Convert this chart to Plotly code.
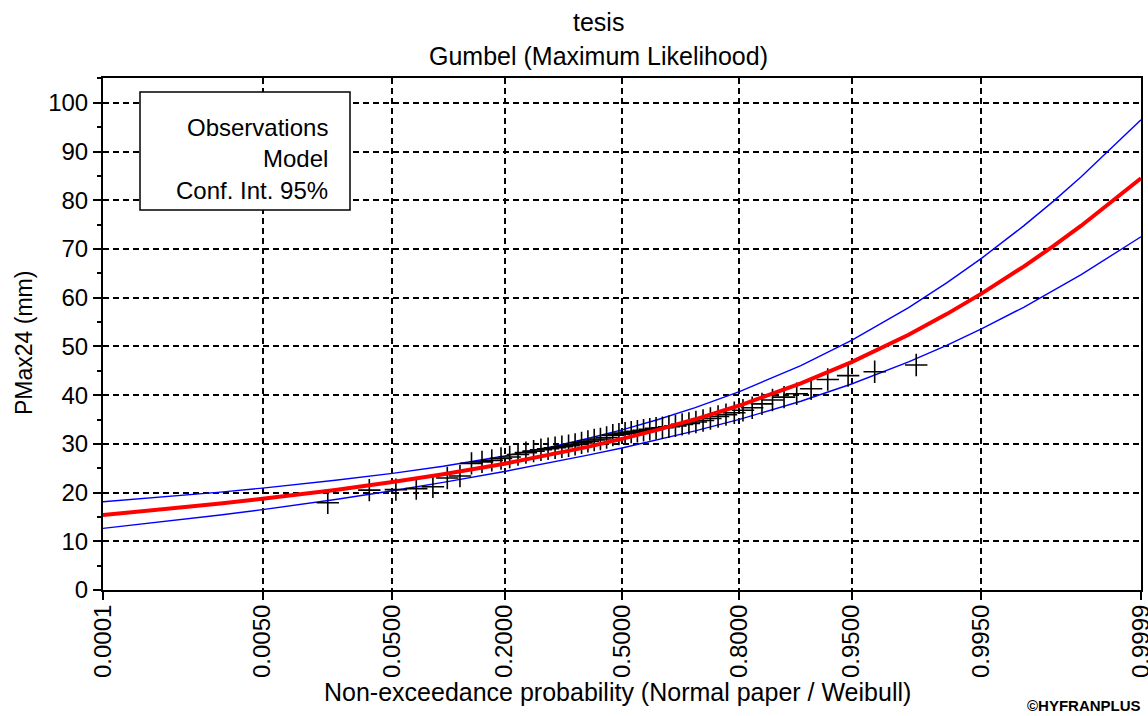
import plotly.graph_objects as go
from statistics import NormalDist

# ---------------- data ----------------
tick_probs = [0.0001, 0.005, 0.05, 0.2, 0.5, 0.8, 0.95, 0.995, 0.9999]
tick_labels = ["0.0001", "0.0050", "0.0500", "0.2000", "0.5000",
               "0.8000", "0.9500", "0.9950", "0.9999"]

obs_prob = [0.0175, 0.0351, 0.0526, 0.0702, 0.0877, 0.1053, 0.1228, 0.1404,
            0.1579, 0.1754, 0.1930, 0.2105, 0.2281, 0.2456, 0.2632, 0.2807,
            0.2982, 0.3158, 0.3333, 0.3509, 0.3684, 0.3860, 0.4035, 0.4211,
            0.4386, 0.4561, 0.4737, 0.4912, 0.5088, 0.5263, 0.5439, 0.5614,
            0.5789, 0.5965, 0.6140, 0.6316, 0.6491, 0.6667, 0.6842, 0.7018,
            0.7193, 0.7368, 0.7544, 0.7719, 0.7895, 0.8070, 0.8246, 0.8421,
            0.8596, 0.8772, 0.8947, 0.9123, 0.9298, 0.9474, 0.9649, 0.9825]
obs_value = [17.9, 20.5, 20.6, 20.8, 21.2, 23.0, 23.4, 26.0,
             26.3, 26.6, 27.0, 27.3, 27.8, 28.2, 28.5, 28.8,
             29.0, 29.2, 29.4, 29.6, 29.9, 30.2, 30.5, 30.8,
             31.0, 31.3, 31.8, 32.0, 32.2, 32.4, 32.6, 32.8,
             33.0, 33.2, 33.3, 33.5, 33.7, 34.0, 34.2, 34.5,
             34.8, 35.2, 35.6, 36.0, 36.4, 36.9, 37.4, 38.2,
             39.0, 39.6, 40.3, 41.3, 43.2, 44.0, 44.8, 46.2]

model_prob = [0.0001, 0.0005, 0.001, 0.002, 0.005, 0.01, 0.02, 0.05, 0.1,
              0.2, 0.3, 0.4, 0.5, 0.6, 0.7, 0.8, 0.9, 0.95, 0.98, 0.99,
              0.995, 0.998, 0.999, 0.9995, 0.9999]
model_value = [15.37, 16.53, 17.11, 17.75, 18.71, 19.56, 20.55, 22.16, 23.75,
               25.92, 27.68, 29.33, 31.02, 32.86, 35.04, 37.87, 42.41, 46.77,
               52.41, 56.63, 60.84, 66.39, 70.59, 74.78, 84.52]
ci_upper = [18.10, 19.07, 19.56, 20.10, 20.92, 21.65, 22.52, 23.95, 25.41,
            27.51, 29.29, 31.04, 32.88, 34.94, 37.44, 40.73, 46.07, 51.25,
            57.98, 63.04, 68.08, 74.74, 79.78, 84.82, 96.53]
ci_lower = [12.64, 13.99, 14.66, 15.40, 16.50, 17.47, 18.58, 20.37, 22.09,
            24.33, 26.07, 27.63, 29.16, 30.78, 32.65, 35.02, 38.75, 42.29,
            46.84, 50.23, 53.60, 58.04, 61.40, 64.74, 72.51]

# normal probability paper: x position is the standard normal quantile
nd = NormalDist()
def z(ps):
    return [nd.inv_cdf(p) for p in ps]

FONT = "Arial, Liberation Sans, sans-serif"

fig = go.Figure()
fig.add_trace(go.Scatter(x=z(model_prob), y=ci_upper, mode="lines",
                         line=dict(color="#0000FF", width=1.4), showlegend=False))
fig.add_trace(go.Scatter(x=z(model_prob), y=ci_lower, mode="lines",
                         line=dict(color="#0000FF", width=1.4), showlegend=False))
fig.add_trace(go.Scatter(x=z(obs_prob), y=obs_value, mode="markers",
                         marker=dict(symbol="cross-thin", size=16,
                                     line=dict(color="black", width=1.6)),
                         showlegend=False))
fig.add_trace(go.Scatter(x=z(model_prob), y=model_value, mode="lines",
                         line=dict(color="#FF0000", width=4), showlegend=False))

# plot area in pixels: x 103..1141, y 78..590
L, R, T, B = 103, 1141, 78, 590
def px(xp):
    return (xp - L) / (R - L)
def py(yp):
    return (B - yp) / (B - T)

zmin = nd.inv_cdf(0.0001) - 1e-6
zmax = nd.inv_cdf(0.9999) + 1e-6

fig.update_layout(
    width=1148, height=716,
    margin=dict(l=L, r=1148 - R, t=T, b=716 - B, autoexpand=False),
    paper_bgcolor="white", plot_bgcolor="white",
    font=dict(family=FONT, color="black"),
    showlegend=False,
    xaxis=dict(range=[zmin, zmax], tickmode="array", tickvals=z(tick_probs),
               ticktext=tick_labels, tickangle=-90, automargin=False,
               ticklabeloverflow="allow", ticklabelstandoff=-5,
               tickfont=dict(size=24, family=FONT),
               ticks="outside", ticklen=8, tickwidth=1.5, tickcolor="black",
               showgrid=True, gridcolor="black", gridwidth=1.5, griddash="6px,4px",
               showline=True, linecolor="black", linewidth=2, mirror=True,
               zeroline=False),
    yaxis=dict(range=[0, 105.1], dtick=10, tick0=0, automargin=False,
               tickfont=dict(size=24, family=FONT),
               ticks="outside", ticklen=8, tickwidth=1.5, tickcolor="black",
               minor=dict(dtick=5, ticks="outside", ticklen=4, tickwidth=1.5,
                          tickcolor="black", showgrid=False),
               showgrid=True, gridcolor="black", gridwidth=1.5, griddash="6px,4px",
               showline=True, linecolor="black", linewidth=2, mirror=True,
               zeroline=False),
)

# legend box (text only, as in the reference)
fig.add_shape(type="rect", xref="paper", yref="paper",
              x0=px(140), x1=px(350), y0=py(210), y1=py(92),
              line=dict(color="black", width=1.5), fillcolor="white", layer="above")
for txt, yc in [("Observations", 127), ("Model", 158), ("Conf. Int. 95%", 190)]:
    fig.add_annotation(xref="paper", yref="paper", x=px(330), y=py(yc),
                       xanchor="right", yanchor="middle", showarrow=False,
                       text=txt, font=dict(size=24, family=FONT))

# titles
fig.add_annotation(xref="paper", yref="paper", x=px(598), y=py(22),
                   xanchor="center", yanchor="middle", showarrow=False,
                   text="tesis", font=dict(size=25, family=FONT))
fig.add_annotation(xref="paper", yref="paper", x=px(598), y=py(56),
                   xanchor="center", yanchor="middle", showarrow=False,
                   text="Gumbel (Maximum Likelihood)", font=dict(size=25, family=FONT))
fig.add_annotation(xref="paper", yref="paper", x=px(24), y=py(343),
                   xanchor="center", yanchor="middle", showarrow=False, textangle=-90,
                   text="PMax24 (mm)", font=dict(size=23, family=FONT))
fig.add_annotation(xref="paper", yref="paper", x=px(617), y=py(692),
                   xanchor="center", yanchor="middle", showarrow=False,
                   text="Non-exceedance probability (Normal paper / Weibull)",
                   font=dict(size=25, family=FONT))
fig.add_annotation(xref="paper", yref="paper", x=px(1143), y=py(705),
                   xanchor="right", yanchor="middle", showarrow=False,
                   text="<b>©HYFRANPLUS</b>", font=dict(size=15, family=FONT))

fig.write_html("out.html", config={"displayModeBar": False},
               post_script="document.body.style.margin='0';document.body.style.overflow='hidden';")
